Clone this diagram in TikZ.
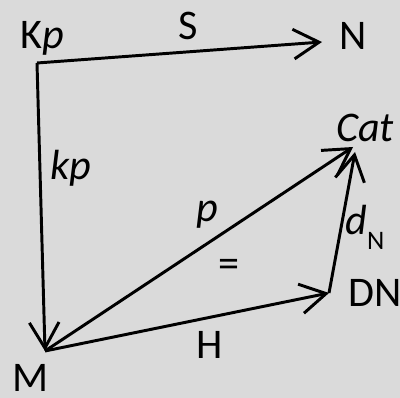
\documentclass[tikz,border=0pt]{standalone}
\usepackage{fontspec}
\setmainfont{Carlito}
\usetikzlibrary{arrows.meta}
\begin{document}
\begin{tikzpicture}[
  x=0.025cm, y=-0.025cm,
  font=\fontsize{30}{34}\selectfont,
  map/.style={draw=black, line width=2.1pt, -{Straight Barb[length=0.64cm, width=0.74cm, line width=2.1pt]}},
  lab/.style={anchor=base, inner sep=0pt}
]
\definecolor{bgGray}{RGB}{218,218,218}

\fill[bgGray] (0,0) rectangle (400,398);
\useasboundingbox (0,0) rectangle (400,398);

% objects (arrow ends)
\coordinate (Kpc) at (37,63);
\coordinate (Nc) at (322,42);
\coordinate (Mc) at (45,351);
\coordinate (Catp) at (353,147);
\coordinate (Catd) at (355,152);
\coordinate (DNc) at (329,293);

% labels
\node[lab] (KpL) at (42,49) {K\textit{p}};
\node[lab] (SL) at (188,40) {S};
\node[lab] (NL) at (353,50) {N};
\node[lab] (CatL) at (365,142) {\textit{Cat}};
\node[lab] (kpL) at (71,180) {\textit{kp}};
\node[lab] (pL) at (207,222) {\textit{p}};
\node[lab] (eqL) at (229,278) {=};
\node[lab] (dNL) at (365,235) {\textit{d}\raisebox{-0.35em}{\fontsize{19}{22}\selectfont N}};
\node[lab] (DNL) at (375,307) {DN};
\node[lab] (HL) at (210,359) {H};
\node[lab] (ML) at (31,391) {M};

% arrows
\draw[map] (Kpc) -- (Nc);
\draw[map] (Kpc) -- (Mc);
\draw[map] (Mc) -- (Catp);
\draw[map] (Mc) -- (DNc);
\draw[map] (DNc) -- (Catd);
\end{tikzpicture}
\end{document}
